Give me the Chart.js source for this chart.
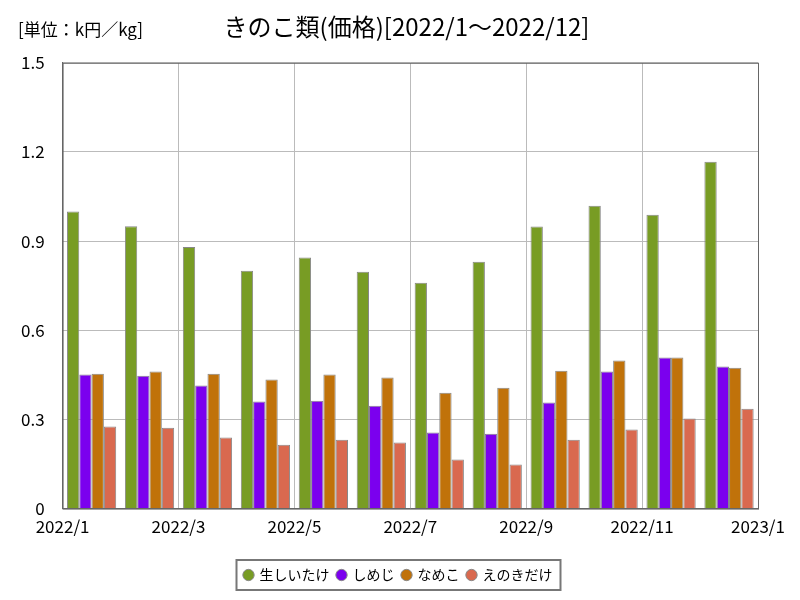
<!DOCTYPE html>
<html>
<head>
<meta charset="utf-8">
<script src="https://cdn.jsdelivr.net/npm/chart.js@4"></script>
<style>
body{margin:0;background:#fff}
</style>
</head>
<body>
<canvas id="myChart" width="800" height="600"></canvas>
<script>
// data
var months = ['2022/1','2022/2','2022/3','2022/4','2022/5','2022/6','2022/7','2022/8','2022/9','2022/10','2022/11','2022/12'];
var tickLabels = ['2022/1','2022/3','2022/5','2022/7','2022/9','2022/11','2023/1'];
var yTicks = ['0','0.3','0.6','0.9','1.2','1.5'];
var shiitake = [1.00, 0.95, 0.88, 0.80, 0.845, 0.797, 0.76, 0.831, 0.949, 1.019, 0.989, 1.167];
var shimeji  = [0.451, 0.447, 0.414, 0.36, 0.363, 0.346, 0.256, 0.252, 0.357, 0.461, 0.508, 0.478];
var nameko   = [0.454, 0.461, 0.454, 0.434, 0.451, 0.441, 0.39, 0.407, 0.464, 0.498, 0.508, 0.474];
var enoki    = [0.276, 0.272, 0.239, 0.215, 0.232, 0.222, 0.165, 0.148, 0.232, 0.266, 0.303, 0.336];

var jpFont = "'Noto Sans CJK JP', sans-serif";
Chart.defaults.font.family = jpFont;
Chart.defaults.color = '#000';

// unit label, frame and legend box
var extras = {
    id: 'extras',
    afterLayout: function(chart){
        // nudge title and legend to the right like the original
        chart.titleBlock.left += 52;
        chart.legend.left += 36;
    },
    afterDraw: function(chart){
        var c = chart.ctx, a = chart.chartArea;
        c.save();
        c.strokeStyle = '#666';
        c.lineWidth = 1;
        c.strokeRect(a.left + 0.5, a.top + 0.5, a.right - a.left, a.bottom - a.top);

        c.font = '17px ' + jpFont;
        c.fillStyle = '#000';
        c.textBaseline = 'middle';
        c.fillText('[単位：k円／kg]', 18, 30);

        var lg = chart.legend, boxes = lg.legendHitBoxes;
        if (boxes && boxes.length) {
            var w = boxes[boxes.length-1].left + boxes[boxes.length-1].width - boxes[0].left;
            var cx = (lg.left + lg.right) / 2;
            var t = boxes[0].top, h = boxes[0].height;
            c.strokeStyle = '#777';
            c.lineWidth = 2;
            c.strokeRect(cx - w / 2 - 8, t - 8, w + 16, h + 16);
        }
        c.restore();
    }
};

function ds(label, data, color){
    return {
        label: label,
        data: data,
        backgroundColor: color,
        borderColor: '#888',
        borderWidth: 1,
        barPercentage: 1.0,
        categoryPercentage: 0.85
    };
}

var ctx = document.getElementById('myChart').getContext('2d');
var chart = new Chart(ctx, {
    type: 'bar',
    data: {
        labels: months,
        datasets: [
            ds('生しいたけ', shiitake, '#789c24'),
            ds('しめじ', shimeji, '#7b00ee'),
            ds('なめこ', nameko, '#c0720a'),
            ds('えのきだけ', enoki, '#d9694f')
        ]
    },
    options: {
        responsive: false,
        animation: false,
        layout: { padding: { left: 3, right: 42, top: 8, bottom: 8 } },
        plugins: {
            title: {
                display: true,
                text: 'きのこ類(価格)[2022/1～2022/12]',
                font: { size: 24, weight: 'normal' },
                padding: { top: 4, bottom: 22 }
            },
            legend: {
                position: 'bottom',
                labels: {
                    usePointStyle: true,
                    pointStyle: 'circle',
                    boxWidth: 8,
                    boxHeight: 8,
                    padding: 8,
                    font: { size: 14 }
                }
            },
            tooltip: { enabled: false }
        },
        scales: {
            x: {
                type: 'category',
                display: false,
                offset: true
            },
            x2: {
                type: 'linear',
                position: 'bottom',
                min: 0,
                max: 12,
                offset: false,
                grid: { color: '#bbb', lineWidth: 1, offset: false, drawTicks: false },
                border: { color: '#666' },
                ticks: {
                    stepSize: 2,
                    maxRotation: 0,
                    padding: 8,
                    font: { size: 17 },
                    callback: function(v){ return tickLabels[v / 2]; }
                },
                afterFit: function(s){ s.height += 15; }
            },
            y: {
                min: 0,
                max: 1.5,
                grid: { color: '#bbb', lineWidth: 1, drawTicks: false },
                border: { color: '#666' },
                ticks: {
                    stepSize: 0.3,
                    padding: 18,
                    font: { size: 17 },
                    callback: function(v){ return yTicks[Math.round(v / 0.3)]; }
                }
            }
        }
    },
    plugins: [extras]
});
</script>
</body>
</html>
